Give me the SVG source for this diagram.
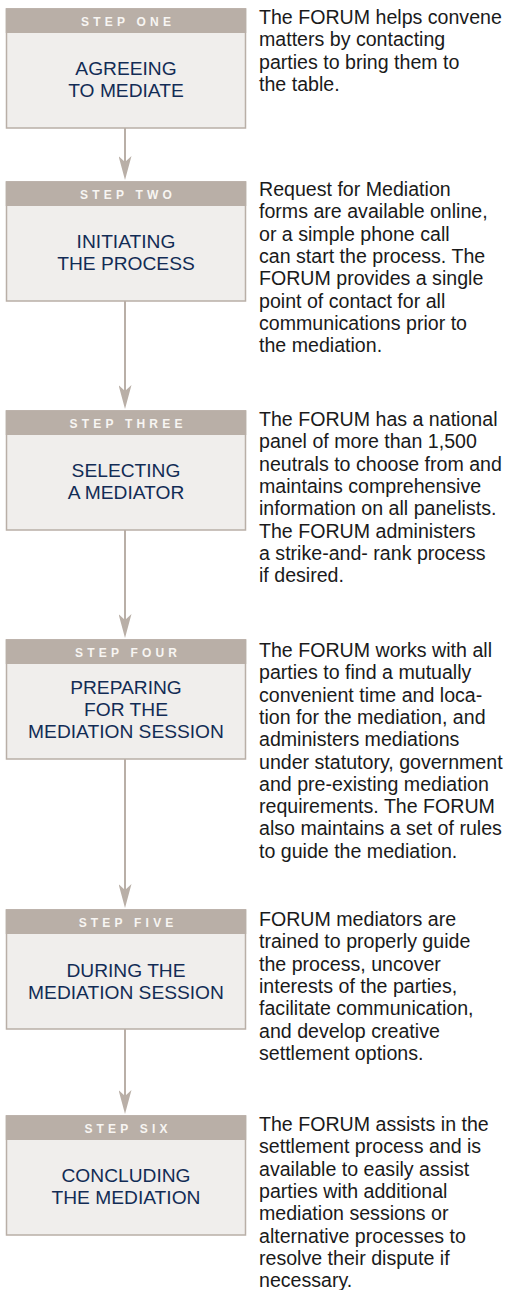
<svg xmlns="http://www.w3.org/2000/svg" width="511" height="1290" viewBox="0 0 511 1290">
<style>
.bg{fill:#ffffff}
.box{fill:#f0eeec;stroke:#b9afa7;stroke-width:1.5}
.hdr{fill:#b9afa7}
.step{font-family:"Liberation Sans",Arial,sans-serif;font-size:12px;font-weight:bold;letter-spacing:4.2px;fill:#f7f5f2;text-anchor:middle}
.title{font-family:"Liberation Sans",Arial,sans-serif;font-size:19.2px;fill:#122c55;text-anchor:middle}
.desc{font-family:"Liberation Sans",Arial,sans-serif;font-size:19.6px;fill:#1a1a1a}
.conn{stroke:#b9afa7;stroke-width:2;fill:none;marker-end:url(#ah)}
</style>
<defs>
<marker id="ah" markerUnits="userSpaceOnUse" viewBox="0 0 24 13" refX="14" refY="6.5" markerWidth="24" markerHeight="13" orient="auto">
<path d="M24,6.5 L0,0 L6,6.5 L0,13 Z" fill="#b9afa7"/>
</marker>
</defs>
<rect class="bg" x="0" y="0" width="511" height="1290"/>
<g id="connectors">
<line class="conn" x1="125" y1="128" x2="125" y2="170"/>
<line class="conn" x1="125" y1="301" x2="125" y2="399"/>
<line class="conn" x1="125" y1="530" x2="125" y2="628"/>
<line class="conn" x1="125" y1="759" x2="125" y2="898"/>
<line class="conn" x1="125" y1="1029" x2="125" y2="1104"/>
</g>
<g id="step1">
<rect class="box" x="6.5" y="9" width="239" height="119"/>
<rect class="hdr" x="5.75" y="8.25" width="240.5" height="24.75"/>
<text class="step" x="128.1" y="25.5">STEP ONE</text>
<text class="title" x="126" y="75">AGREEING</text>
<text class="title" x="126" y="97">TO MEDIATE</text>
<text class="desc" x="259" y="24"><tspan x="259">The FORUM helps convene</tspan><tspan x="259" dy="22.3">matters by contacting</tspan><tspan x="259" dy="22.3">parties to bring them to</tspan><tspan x="259" dy="22.3">the table.</tspan></text>
</g>
<g id="step2">
<rect class="box" x="6.5" y="182" width="239" height="119"/>
<rect class="hdr" x="5.75" y="181.25" width="240.5" height="24.75"/>
<text class="step" x="128.1" y="198.5">STEP TWO</text>
<text class="title" x="126" y="248">INITIATING</text>
<text class="title" x="126" y="270">THE PROCESS</text>
<text class="desc" x="259" y="196"><tspan x="259">Request for Mediation</tspan><tspan x="259" dy="22.3">forms are available online,</tspan><tspan x="259" dy="22.3">or a simple phone call</tspan><tspan x="259" dy="22.3">can start the process. The</tspan><tspan x="259" dy="22.3">FORUM provides a single</tspan><tspan x="259" dy="22.3">point of contact for all</tspan><tspan x="259" dy="22.3">communications prior to</tspan><tspan x="259" dy="22.3">the mediation.</tspan></text>
</g>
<g id="step3">
<rect class="box" x="6.5" y="411" width="239" height="119"/>
<rect class="hdr" x="5.75" y="410.25" width="240.5" height="24.75"/>
<text class="step" x="128.1" y="427.5">STEP THREE</text>
<text class="title" x="126" y="477">SELECTING</text>
<text class="title" x="126" y="499">A MEDIATOR</text>
<text class="desc" x="259" y="426"><tspan x="259">The FORUM has a national</tspan><tspan x="259" dy="22.3">panel of more than 1,500</tspan><tspan x="259" dy="22.3">neutrals to choose from and</tspan><tspan x="259" dy="22.3">maintains comprehensive</tspan><tspan x="259" dy="22.3">information on all panelists.</tspan><tspan x="259" dy="22.3">The FORUM administers</tspan><tspan x="259" dy="22.3">a strike-and- rank process</tspan><tspan x="259" dy="22.3">if desired.</tspan></text>
</g>
<g id="step4">
<rect class="box" x="6.5" y="640" width="239" height="119"/>
<rect class="hdr" x="5.75" y="639.25" width="240.5" height="24.75"/>
<text class="step" x="128.1" y="656.5">STEP FOUR</text>
<text class="title" x="126" y="694">PREPARING</text>
<text class="title" x="126" y="716">FOR THE</text>
<text class="title" x="126" y="738">MEDIATION SESSION</text>
<text class="desc" x="259" y="657"><tspan x="259">The FORUM works with all</tspan><tspan x="259" dy="22.3">parties to find a mutually</tspan><tspan x="259" dy="22.3">convenient time and loca-</tspan><tspan x="259" dy="22.3">tion for the mediation, and</tspan><tspan x="259" dy="22.3">administers mediations</tspan><tspan x="259" dy="22.3">under statutory, government</tspan><tspan x="259" dy="22.3">and pre-existing mediation</tspan><tspan x="259" dy="22.3">requirements. The FORUM</tspan><tspan x="259" dy="22.3">also maintains a set of rules</tspan><tspan x="259" dy="22.3">to guide the mediation.</tspan></text>
</g>
<g id="step5">
<rect class="box" x="6.5" y="910" width="239" height="119"/>
<rect class="hdr" x="5.75" y="909.25" width="240.5" height="24.75"/>
<text class="step" x="128.1" y="926.5">STEP FIVE</text>
<text class="title" x="126" y="977">DURING THE</text>
<text class="title" x="126" y="999">MEDIATION SESSION</text>
<text class="desc" x="259" y="926"><tspan x="259">FORUM mediators are</tspan><tspan x="259" dy="22.3">trained to properly guide</tspan><tspan x="259" dy="22.3">the process, uncover</tspan><tspan x="259" dy="22.3">interests of the parties,</tspan><tspan x="259" dy="22.3">facilitate communication,</tspan><tspan x="259" dy="22.3">and develop creative</tspan><tspan x="259" dy="22.3">settlement options.</tspan></text>
</g>
<g id="step6">
<rect class="box" x="6.5" y="1116" width="239" height="119"/>
<rect class="hdr" x="5.75" y="1115.25" width="240.5" height="24.75"/>
<text class="step" x="128.1" y="1132.5">STEP SIX</text>
<text class="title" x="126" y="1182">CONCLUDING</text>
<text class="title" x="126" y="1204">THE MEDIATION</text>
<text class="desc" x="259" y="1131"><tspan x="259">The FORUM assists in the</tspan><tspan x="259" dy="22.3">settlement process and is</tspan><tspan x="259" dy="22.3">available to easily assist</tspan><tspan x="259" dy="22.3">parties with additional</tspan><tspan x="259" dy="22.3">mediation sessions or</tspan><tspan x="259" dy="22.3">alternative processes to</tspan><tspan x="259" dy="22.3">resolve their dispute if</tspan><tspan x="259" dy="22.3">necessary.</tspan></text>
</g>
</svg>
